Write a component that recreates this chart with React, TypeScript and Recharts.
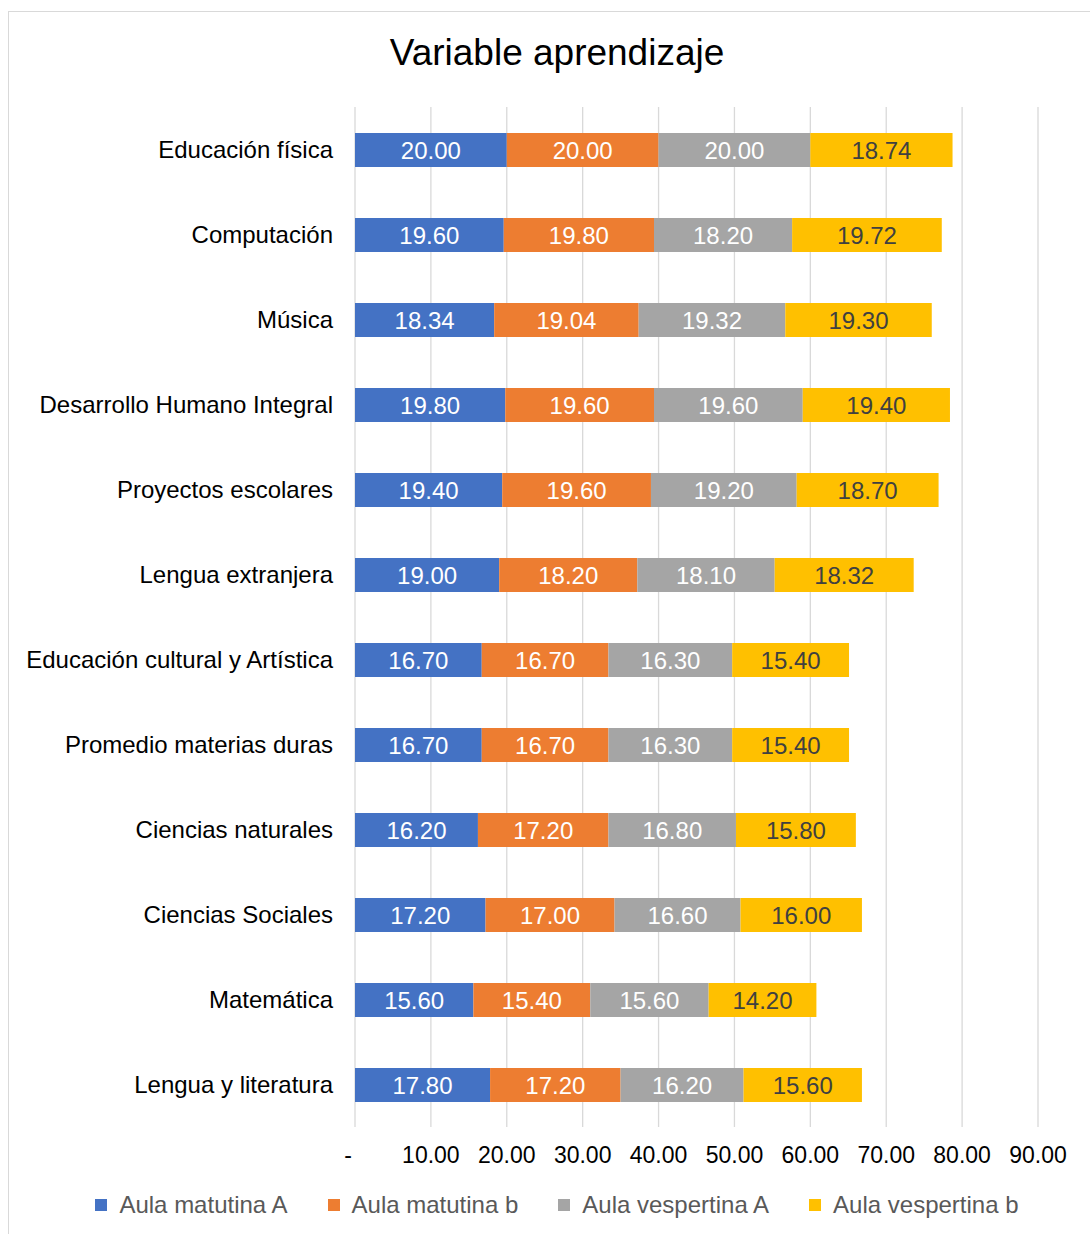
import { Bar, BarChart, CartesianGrid, LabelList, Legend, XAxis, YAxis } from "recharts";

const categories = [
  "Educación física",
  "Computación",
  "Música",
  "Desarrollo Humano Integral",
  "Proyectos escolares",
  "Lengua extranjera",
  "Educación cultural y Artística",
  "Promedio materias duras",
  "Ciencias naturales",
  "Ciencias Sociales",
  "Matemática",
  "Lengua y literatura",
];

const matutinaA = [20.0, 19.6, 18.34, 19.8, 19.4, 19.0, 16.7, 16.7, 16.2, 17.2, 15.6, 17.8];
const matutinaB = [20.0, 19.8, 19.04, 19.6, 19.6, 18.2, 16.7, 16.7, 17.2, 17.0, 15.4, 17.2];
const vespertinaA = [20.0, 18.2, 19.32, 19.6, 19.2, 18.1, 16.3, 16.3, 16.8, 16.6, 15.6, 16.2];
const vespertinaB = [18.74, 19.72, 19.3, 19.4, 18.7, 18.32, 15.4, 15.4, 15.8, 16.0, 14.2, 15.6];

const xTicks = [0, 10, 20, 30, 40, 50, 60, 70, 80, 90];

const series = [
  { key: "ma", name: "Aula matutina A", color: "#4472C4", label: "#ffffff" },
  { key: "mb", name: "Aula matutina b", color: "#ED7D31", label: "#ffffff" },
  { key: "va", name: "Aula vespertina A", color: "#A5A5A5", label: "#ffffff" },
  { key: "vb", name: "Aula vespertina b", color: "#FFC000", label: "#404040" },
];

const data = categories.map((name, i) => ({
  name,
  ma: matutinaA[i],
  mb: matutinaB[i],
  va: vespertinaA[i],
  vb: vespertinaB[i],
}));

const FONT = '"Liberation Sans", Arial, sans-serif';

function XTick(props: any) {
  const { x, y, payload } = props;
  const v = payload.value;
  return (
    <text
      x={v === 0 ? x - 7 : x}
      y={y}
      dy="0.71em"
      textAnchor="middle"
      fontSize={23}
      fill="#000"
      fontFamily={FONT}
    >
      {v === 0 ? "-" : v.toFixed(2)}
    </text>
  );
}

function LegendContent() {
  return (
    <div
      style={{
        display: "flex",
        justifyContent: "center",
        alignItems: "center",
        height: 62,
        paddingTop: 4,
        paddingLeft: 15,
        boxSizing: "border-box",
        gap: 40,
        fontFamily: FONT,
        fontSize: 24,
        color: "#595959",
      }}
    >
      {series.map((s) => (
        <div key={s.key} style={{ display: "flex", alignItems: "center" }}>
          <span
            style={{ width: 12, height: 12, background: s.color, display: "inline-block", marginRight: 12 }}
          />
          <span>{s.name}</span>
        </div>
      ))}
    </div>
  );
}

export default function App() {
  return (
    <div
      style={{
        position: "absolute",
        left: 8,
        top: 11,
        width: 1082,
        height: 1223,
        borderTop: "1px solid #d9d9d9",
        borderLeft: "1px solid #d9d9d9",
        background: "#fff",
        fontFamily: FONT,
        overflow: "hidden",
      }}
    >
      <div
        style={{
          position: "absolute",
          left: 0,
          top: 20,
          width: 1081,
          paddingLeft: 15,
          boxSizing: "border-box",
          textAlign: "center",
          fontSize: 37,
          lineHeight: "42px",
          color: "#000",
        }}
      >
        Variable aprendizaje
      </div>
      <BarChart
        width={1081}
        height={1222}
        data={data}
        layout="vertical"
        margin={{ top: 95, right: 52, bottom: 0, left: 0 }}
        barSize={34}
      >
        <CartesianGrid horizontal={false} stroke="#d9d9d9" strokeWidth={1.3} />
        <XAxis
          type="number"
          domain={[0, 90]}
          ticks={xTicks}
          axisLine={false}
          tickLine={false}
          tickMargin={14}
          height={45}
          tick={<XTick />}
          interval={0}
        />
        <YAxis
          type="category"
          dataKey="name"
          width={346}
          axisLine={false}
          tickLine={false}
          tickMargin={16}
          interval={0}
          tick={{ fontSize: 24, fill: "#000", fontFamily: FONT }}
        />
        <Legend
          verticalAlign="bottom"
          content={<LegendContent />}
          wrapperStyle={{ left: 0, width: 1081 }}
        />
        {series.map((s) => (
          <Bar key={s.key} dataKey={s.key} name={s.name} stackId="a" fill={s.color} isAnimationActive={false}>
            <LabelList
              dataKey={s.key}
              position="center"
              fill={s.label}
              fontSize={24}
              fontFamily={FONT}
              formatter={(v: any) => Number(v).toFixed(2)}
            />
          </Bar>
        ))}
      </BarChart>
    </div>
  );
}
